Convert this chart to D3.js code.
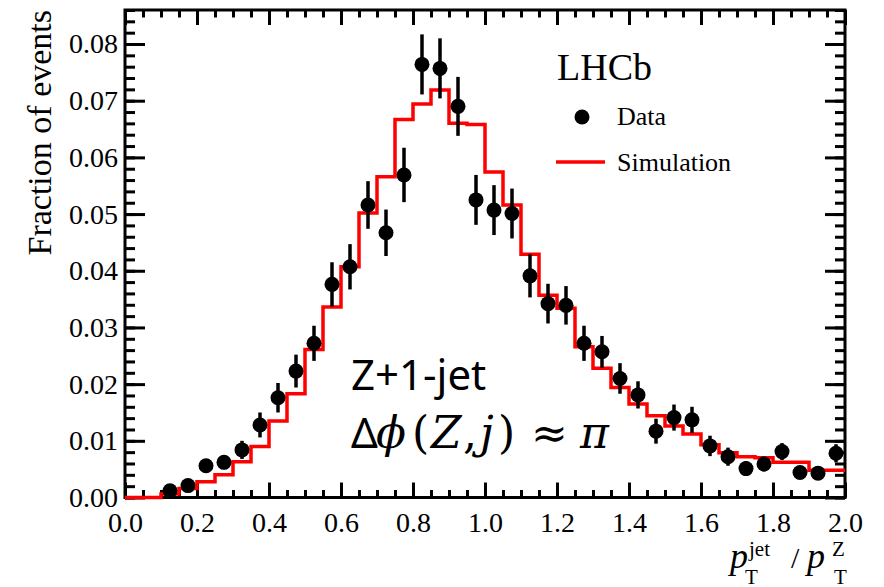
<!DOCTYPE html>
<html>
<head>
<meta charset="utf-8">
<script src="https://cdn.jsdelivr.net/npm/d3@7"></script>
<style>
  html, body { margin: 0; padding: 0; background: #fff; }
  svg { display: block; }
  .serif, .serif text { font-family: 'Liberation Serif', 'Times New Roman', serif; }
</style>
</head>
<body>
<svg id="chart" width="884" height="587"></svg>
<script>
// ---------- DATA ----------
const dataX = [0.125,0.175,0.225,0.275,0.325,0.375,0.425,0.475,0.525,0.575,
               0.625,0.675,0.725,0.775,0.825,0.875,0.925,0.975,1.025,1.075,
               1.125,1.175,1.225,1.275,1.325,1.375,1.425,1.475,1.525,1.575,
               1.625,1.675,1.725,1.775,1.825,1.875,1.925,1.975];
const dataY = [0.0012,0.0021,0.0056,0.0062,0.0084,0.0128,0.0176,0.0223,0.0272,0.0376,
               0.0407,0.0516,0.0467,0.0569,0.0764,0.0757,0.0690,0.0525,0.0507,0.0501,
               0.0391,0.0342,0.0339,0.0272,0.0257,0.0210,0.0181,0.0117,0.0141,0.0137,
               0.0091,0.0072,0.0051,0.0059,0.0081,0.0044,0.0043,0.0078];
const dataErr = [0.0007,0.0009,0.0011,0.0012,0.0016,0.0022,0.0026,0.0029,0.0031,0.0039,
                 0.0040,0.0042,0.0041,0.0048,0.0053,0.0053,0.0052,0.0044,0.0044,0.0044,
                 0.0038,0.0035,0.0034,0.0031,0.0028,0.0027,0.0024,0.0022,0.0023,0.0023,
                 0.0018,0.0016,0.0013,0.0013,0.0015,0.0011,0.0011,0.0016];

const simEdges = [0.00,0.05,0.10,0.15,0.20,0.25,0.30,0.35,0.40,0.45,
                  0.50,0.55,0.60,0.65,0.70,0.75,0.80,0.85,0.90,0.95,
                  1.00,1.05,1.10,1.15,1.20,1.25,1.30,1.35,1.40,1.45,
                  1.50,1.55,1.60,1.65,1.70,1.75,1.80,1.85,1.90,1.95,2.00];
const simY = [0.0000,0.0000,0.0006,0.0016,0.0028,0.0040,0.0063,0.0090,0.0135,0.0183,
              0.0261,0.0336,0.0407,0.0502,0.0566,0.0667,0.0694,0.0719,0.0660,0.0658,
              0.0574,0.0516,0.0429,0.0357,0.0334,0.0266,0.0228,0.0194,0.0165,0.0144,
              0.0126,0.0112,0.0093,0.0079,0.0072,0.0070,0.0062,0.0062,0.0048,0.0048];

const xTicks = [0.0,0.2,0.4,0.6,0.8,1.0,1.2,1.4,1.6,1.8,2.0];
const yTicks = [0.00,0.01,0.02,0.03,0.04,0.05,0.06,0.07,0.08];

// ---------- LAYOUT ----------
const L = 125, R = 845, T = 10, B = 497.5;
const svg = d3.select("#chart");
svg.append("rect").attr("width",884).attr("height",587).attr("fill","#fff");

const x = d3.scaleLinear().domain([0,2]).range([L,R]);
const y = d3.scaleLinear().domain([0,0.086]).range([B,T]);

const serif = "'Liberation Serif','Times New Roman',serif";
const xMinor = d3.range(0, 2.0001, 0.05);
const yMinor = d3.range(0, 0.0861, 0.002);

function styleAxis(g){
  g.attr("font-family", null).attr("font-size", null).attr("class","serif");
  g.select(".domain").remove();
  g.selectAll("line").attr("stroke","#000").attr("stroke-width",3);
  g.selectAll("text").style("font-family",serif).style("font-size","28px").attr("fill","#000");
}

// bottom
svg.append("g").attr("transform",`translate(0,${B})`)
  .call(d3.axisBottom(x).tickValues(xMinor).tickSize(-7.5).tickFormat(""))
  .call(styleAxis);
svg.append("g").attr("transform",`translate(0,${B})`)
  .call(d3.axisBottom(x).tickValues(xTicks).tickSize(-15).tickPadding(14.5).tickFormat(d3.format(".1f")))
  .call(styleAxis);
// top
svg.append("g").attr("transform",`translate(0,${T})`)
  .call(d3.axisTop(x).tickValues(xMinor).tickSize(-7.5).tickFormat(""))
  .call(styleAxis);
svg.append("g").attr("transform",`translate(0,${T})`)
  .call(d3.axisTop(x).tickValues(xTicks).tickSize(-15).tickFormat(""))
  .call(styleAxis);
// left
svg.append("g").attr("transform",`translate(${L},0)`)
  .call(d3.axisLeft(y).tickValues(yMinor).tickSize(-10).tickFormat(""))
  .call(styleAxis);
svg.append("g").attr("transform",`translate(${L},0)`)
  .call(d3.axisLeft(y).tickValues(yTicks).tickSize(-20).tickPadding(7).tickFormat(d3.format(".2f")))
  .call(styleAxis);
// right
svg.append("g").attr("transform",`translate(${R},0)`)
  .call(d3.axisRight(y).tickValues(yMinor).tickSize(-10).tickFormat(""))
  .call(styleAxis);
svg.append("g").attr("transform",`translate(${R},0)`)
  .call(d3.axisRight(y).tickValues(yTicks).tickSize(-20).tickFormat(""))
  .call(styleAxis);

// frame
svg.append("rect").attr("x",L).attr("y",T).attr("width",R-L).attr("height",B-T)
  .attr("fill","none").attr("stroke","#000").attr("stroke-width",3);

// ---------- SIMULATION HISTOGRAM ----------
const histPts = simEdges.map((e,i)=>[e, i < simY.length ? simY[i] : simY[simY.length-1]]);
const stepLine = d3.line().x(d=>x(d[0])).y(d=>y(d[1])).curve(d3.curveStepAfter);
svg.append("path").attr("d", stepLine(histPts))
  .attr("fill","none").attr("stroke","#ff0000").attr("stroke-width",3.5)
  .attr("stroke-linejoin","miter");

// ---------- DATA POINTS ----------
const pts = dataX.map((d,i)=>({x:d, y:dataY[i], e:dataErr[i]}));
svg.append("g").selectAll("line").data(pts).join("line")
  .attr("x1",d=>x(d.x)).attr("x2",d=>x(d.x))
  .attr("y1",d=>y(d.y-d.e)).attr("y2",d=>y(d.y+d.e))
  .attr("stroke","#000").attr("stroke-width",3.5);
svg.append("g").selectAll("circle").data(pts).join("circle")
  .attr("cx",d=>x(d.x)).attr("cy",d=>y(d.y)).attr("r",7.5).attr("fill","#000");

// ---------- LEGEND ----------
svg.append("text").attr("x",557).attr("y",80).style("font-family",serif)
  .attr("font-size",38).attr("fill","#000").text("LHCb");
svg.append("circle").attr("cx",582).attr("cy",117).attr("r",7.5).attr("fill","#000");
svg.append("text").attr("x",617).attr("y",125).style("font-family",serif)
  .attr("font-size",26).attr("fill","#000").text("Data");
svg.append("line").attr("x1",556).attr("x2",605).attr("y1",162).attr("y2",162)
  .attr("stroke","#ff0000").attr("stroke-width",3.5);
svg.append("text").attr("x",617).attr("y",171).style("font-family",serif)
  .attr("font-size",26).attr("fill","#000").text("Simulation");

// ---------- AXIS TITLES ----------
svg.append("text").attr("transform","translate(51,10) rotate(-90)")
  .attr("text-anchor","end").style("font-family",serif).attr("font-size",34)
  .attr("fill","#000").text("Fraction of events");

const xt = svg.append("text").style("font-family",serif).attr("fill","#000");
xt.append("tspan").attr("x",730).attr("y",568).attr("font-size",36).attr("font-style","italic").text("p");
xt.append("tspan").attr("x",749).attr("y",556).attr("font-size",21).text("jet");
xt.append("tspan").attr("x",745).attr("y",584).attr("font-size",21).text("T");
xt.append("tspan").attr("x",791).attr("y",568).attr("font-size",30).text("/");
xt.append("tspan").attr("x",807).attr("y",568).attr("font-size",36).attr("font-style","italic").text("p");
xt.append("tspan").attr("x",832).attr("y",556).attr("font-size",21).text("Z");
xt.append("tspan").attr("x",834).attr("y",584).attr("font-size",21).text("T");

// ---------- ANNOTATION ----------
const sans = "'Noto Sans','Open Sans',sans-serif";
const math = "'DejaVu Serif','Liberation Serif',serif";
svg.append("text").attr("x",351).attr("y",390).style("font-family",sans)
  .attr("font-size",42).attr("fill","#000").text("Z+1-jet");
const parts = [
  {t:"Δ", x:351, f:sans, i:false},
  {t:"ϕ", x:376, f:math, i:true},
  {t:"(", x:412, f:math, i:false},
  {t:"Z", x:431, f:math, i:true},
  {t:",", x:463, f:math, i:false},
  {t:"j", x:480, f:math, i:true},
  {t:")", x:498, f:math, i:false},
  {t:"≈", x:531, f:math, i:false},
  {t:"π", x:580, f:math, i:true}
];
const ann = svg.append("text").attr("fill","#000").attr("font-size",44).attr("y",448);
parts.forEach(p=>{
  ann.append("tspan").attr("x",p.x).attr("y",448).style("font-family",p.f)
    .attr("font-size", p.f===sans ? 42 : 44)
    .attr("font-style",p.i?"italic":"normal").text(p.t);
});
</script>
</body>
</html>
